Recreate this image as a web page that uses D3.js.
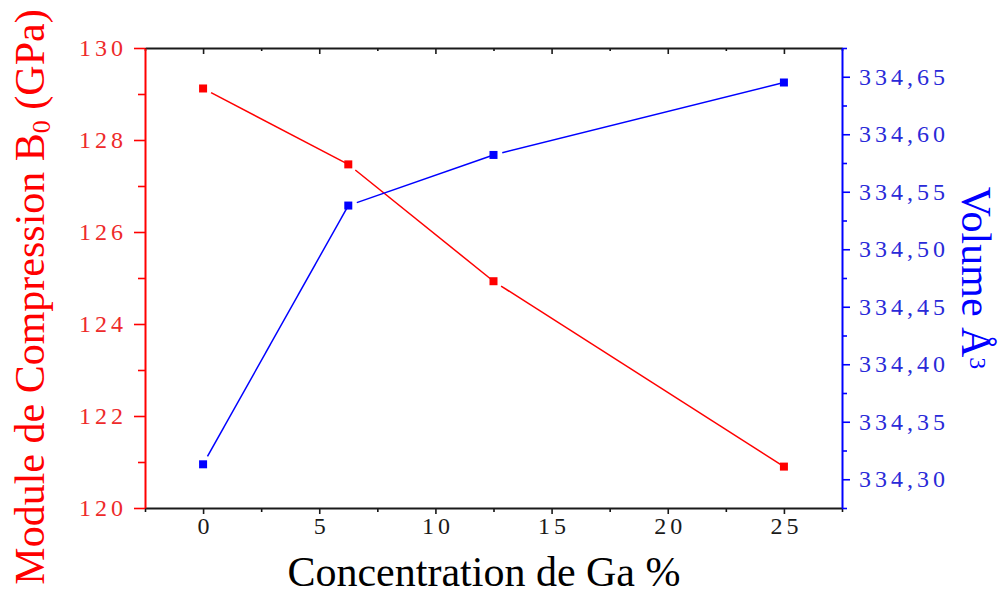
<!DOCTYPE html>
<html>
<head>
<meta charset="utf-8">
<script src="https://cdn.jsdelivr.net/npm/d3@7"></script>
<style>
  body { margin: 0; background: #fff; }
  svg { display: block; }
  text { font-family: "Liberation Serif", "Times New Roman", serif; }
</style>
</head>
<body>
<div id="chart"></div>
<script>
// Ga concentration (%) and the two measured series
const concentration = [0, 6.25, 12.5, 25];
const bulkModulus = [129.12, 127.47, 124.93, 120.9];   // GPa, left axis
const volume = [334.313, 334.538, 334.582, 334.645];   // Å³, right axis

const xTicks = [0, 5, 10, 15, 20, 25];
const xMinorTicks = [-2.5, 2.5, 7.5, 12.5, 17.5, 22.5, 27.5];
const leftTicks = [120, 122, 124, 126, 128, 130];
const leftMinorTicks = [121, 123, 125, 127, 129];
const rightTicks = [334.30, 334.35, 334.40, 334.45, 334.50, 334.55, 334.60, 334.65];
const rightMinorTicks = [334.275, 334.325, 334.375, 334.425, 334.475, 334.525, 334.575, 334.625, 334.675];

const W = 1001, H = 594;
const RED = "#ff0000", BLUE = "#0000ff";

const svg = d3.select("#chart").append("svg")
    .attr("width", W).attr("height", H);

const x = d3.scaleLinear().domain([-2.5, 27.5]).range([145, 842]);
const yL = d3.scaleLinear().domain([120, 130]).range([508, 48]);
const yR = d3.scaleLinear().domain([334.275, 334.675]).range([508, 48]);

const comma = d => d3.format(".2f")(d).replace(".", ",");

function styleAxis(g, color, width) {
    g.select(".domain").attr("stroke", color).attr("stroke-width", width);
    g.selectAll(".tick line").attr("stroke", color).attr("stroke-width", 1.6);
    g.selectAll(".tick text")
        .attr("fill", color)
        .style("font-size", "24px")
        .style("letter-spacing", "4px");
}

// bottom axis
const gb = svg.append("g").attr("transform", `translate(0,${yL.range()[0]})`);
gb.call(d3.axisBottom(x).tickValues(xMinorTicks).tickSize(4).tickFormat(""))
  .call(g => g.select(".domain").remove())
  .call(g => g.selectAll("line").attr("stroke", "#111").attr("stroke-width", 1.6));
gb.append("g").call(d3.axisBottom(x).tickValues(xTicks).tickSize(6).tickSizeOuter(0).tickPadding(3))
  .call(g => styleAxis(g, "#1a1a1a", 2))
  .call(g => g.selectAll(".tick text").attr("dx", "2px"));

// top axis (ticks inward)
const gt = svg.append("g").attr("transform", `translate(0,${yL.range()[1]})`);
gt.call(d3.axisTop(x).tickValues(xMinorTicks).tickSize(-3).tickFormat(""))
  .call(g => g.select(".domain").remove())
  .call(g => g.selectAll("line").attr("stroke", "#111").attr("stroke-width", 1.6));
gt.append("g").call(d3.axisTop(x).tickValues(xTicks).tickSize(-6).tickSizeOuter(0).tickFormat(""))
  .call(g => styleAxis(g, "#1a1a1a", 2));

// left axis (red)
const gl = svg.append("g").attr("transform", `translate(${x.range()[0]},0)`);
gl.call(d3.axisLeft(yL).tickValues(leftMinorTicks).tickSize(7).tickFormat(""))
  .call(g => g.select(".domain").remove())
  .call(g => g.selectAll("line").attr("stroke", RED).attr("stroke-width", 1.6));
gl.append("g").call(d3.axisLeft(yL).tickValues(leftTicks).tickSize(11).tickSizeOuter(0).tickPadding(7).tickFormat(d3.format("d")))
  .call(g => styleAxis(g, RED, 2))
  .call(g => g.selectAll(".tick text").attr("fill", "#ee2a2a"));

// right axis (blue)
const gr = svg.append("g").attr("transform", `translate(${x.range()[1]},0)`);
gr.call(d3.axisRight(yR).tickValues(rightMinorTicks).tickSize(5).tickFormat(""))
  .call(g => g.select(".domain").remove())
  .call(g => g.selectAll("line").attr("stroke", BLUE).attr("stroke-width", 1.6));
gr.append("g").call(d3.axisRight(yR).tickValues(rightTicks).tickSize(8).tickSizeOuter(0).tickPadding(9).tickFormat(comma))
  .call(g => styleAxis(g, BLUE, 2))
  .call(g => g.selectAll(".tick text").attr("fill", "#2a2ad8"));

// series: Origin style, each segment starts a little after its marker
function drawSeries(values, yScale, color) {
    const pts = concentration.map((c, i) => [x(c), yScale(values[i])]);
    const segs = d3.pairs(pts).map(([a, b]) => {
        const dx = b[0] - a[0], dy = b[1] - a[1];
        const len = Math.hypot(dx, dy);
        const gap = 9;
        return [[a[0] + dx / len * gap, a[1] + dy / len * gap], [b[0], b[1]]];
    });
    svg.append("g").selectAll("line").data(segs).join("line")
        .attr("x1", d => d[0][0]).attr("y1", d => d[0][1])
        .attr("x2", d => d[1][0]).attr("y2", d => d[1][1])
        .attr("stroke", color).attr("stroke-width", 1.5);
    svg.append("g").selectAll("rect").data(pts).join("rect")
        .attr("x", d => d[0] - 4).attr("y", d => d[1] - 4)
        .attr("width", 8).attr("height", 8)
        .attr("fill", color);
}
drawSeries(bulkModulus, yL, RED);
drawSeries(volume, yR, BLUE);

// axis titles
svg.append("text")
    .attr("x", 484).attr("y", 586)
    .attr("text-anchor", "middle")
    .style("font-size", "42px").attr("fill", "#000")
    .text("Concentration de Ga %");

const lt = svg.append("text")
    .attr("transform", `translate(44,${H / 2}) rotate(-90)`)
    .attr("text-anchor", "middle")
    .style("font-size", "42px").attr("fill", RED);
lt.append("tspan").text("Module de Compression B");
lt.append("tspan").text("0").style("font-size", "26px").attr("dy", "6");
lt.append("tspan").text(" (GPa)").attr("dy", "-6");

const rt = svg.append("text")
    .attr("transform", `translate(962,278) rotate(90)`)
    .attr("text-anchor", "middle")
    .style("font-size", "42px").attr("fill", BLUE);
rt.append("tspan").text("Volume Å");
rt.append("tspan").text("3").style("font-size", "24px").attr("dy", "-8");
</script>
</body>
</html>
